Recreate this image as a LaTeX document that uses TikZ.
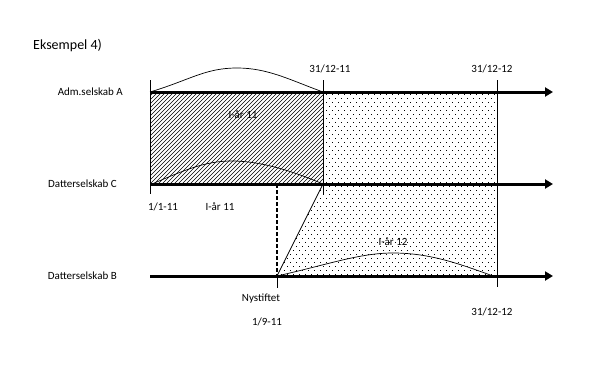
\documentclass[tikz,border=0pt]{standalone}
\usepackage{fontspec}
\setmainfont{Carlito}
\usetikzlibrary{arrows.meta}
\tikzset{
  axisline/.style={line width=3pt,-{Triangle[length=8pt,width=9pt]}},
  tickline/.style={line width=0.8pt},
  thinline/.style={line width=0.7pt},
  lbl/.style={inner sep=0pt,font=\fontsize{11}{13}\selectfont},
  rowlbl/.style={lbl,anchor=east},
}
\begin{document}
\begin{tikzpicture}[x=1pt,y=-1pt]
\useasboundingbox (0,0) rectangle (616,383);
% key coordinates
\coordinate (A0) at (150,92);  \coordinate (Aend) at (553,92);
\coordinate (C0) at (150,184); \coordinate (Cend) at (553,184);
\coordinate (B0) at (150,276); \coordinate (Bend) at (553,276);
\coordinate (A1) at (323,92);  \coordinate (A2) at (497,92);
\coordinate (C1) at (323,184); \coordinate (C2) at (497,184);
\coordinate (Cn) at (277,184);
\coordinate (Bn) at (277,276); \coordinate (B2) at (497,276);
% hatched region
\begin{scope}
  \clip (A0) rectangle (C1);
  \foreach \i in {-96,-92,...,176} {
    \draw[line width=0.55pt] (150+\i,184) -- (242+\i,92);
  }
\end{scope}
% dotted region
\begin{scope}
  \clip (A1) -- (A2) -- (B2) -- (Bn) -- (C1) -- cycle;
  \foreach \r in {0,...,46} {
    \pgfmathsetmacro{\yy}{94+4*\r}
    \pgfmathsetmacro{\off}{mod(\r,2)*3}
    \foreach \c in {0,...,42} {
      \fill (260+\off+6*\c,\yy) rectangle +(1,1);
    }
  }
\end{scope}
% vertical lines
\draw[tickline] (150,80) -- (150,194);
\draw[tickline] (323,80) -- (323,194);
\draw[tickline] (497,80) -- (497,287);
\draw[tickline] (277,276) -- (277,288);
\draw[line width=2pt,dash pattern=on 4pt off 2pt] (Cn) -- (Bn);
\draw[thinline] (Bn) -- (C1);
% arcs
\draw[thinline] (A0) .. controls (190,80) and (205,68) .. (237,68) .. controls (268,68) and (290,80) .. (A1);
\draw[thinline] (152,184) .. controls (185,170) and (205,161) .. (232,161) .. controls (262,161) and (295,172) .. (C1);
\draw[thinline] (Bn) .. controls (330,264) and (360,253) .. (393,253) .. controls (430,253) and (460,264) .. (493,276);
% axes
\draw[axisline] (A0) -- (Aend);
\draw[axisline] (C0) -- (Cend);
\draw[axisline] (B0) -- (Bend);
% labels
\node[inner sep=0pt,anchor=west,font=\fontsize{14}{16}\selectfont] (title) at (33,46) {Eksempel 4)};
\node[rowlbl] (la) at (123,92) {Adm.selskab A};
\node[rowlbl] (lc) at (117,184) {Datterselskab C};
\node[rowlbl] (lb) at (117,276) {Datterselskab B};
\node[lbl] (d1) at (330,69) {31/12-11};
\node[lbl] (d2) at (492,69) {31/12-12};
\node[lbl] (i11a) at (243,115) {I-år 11};
\node[lbl] (d0) at (163,207) {1/1-11};
\node[lbl] (i11b) at (220,207) {I-år 11};
\node[lbl] (i12) at (393,242) {I-år 12};
\node[lbl] (ny) at (261,299) {Nystiftet};
\node[lbl] (d19) at (267,322) {1/9-11};
\node[lbl] (d3) at (492,312) {31/12-12};
\end{tikzpicture}
\end{document}
